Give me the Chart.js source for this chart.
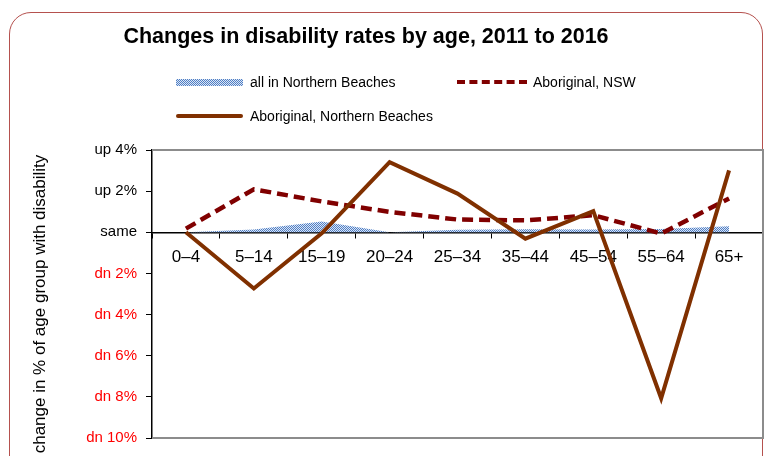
<!DOCTYPE html>
<html>
<head>
<meta charset="utf-8">
<script src="https://cdn.jsdelivr.net/npm/chart.js@4.4.1/dist/chart.umd.min.js"></script>
<style>
  body { margin: 0; background: #fff; font-family: "Liberation Sans", Arial, sans-serif; }
  #wrap { position: relative; width: 764px; height: 456px; overflow: hidden; }
  #frame { position: absolute; left: 9px; top: 12px; width: 752px; height: 480px;
           border: 1.5px solid #b5514e; border-radius: 22px; }
  #title { position: absolute; left: 0; top: 24px; width: 732px; text-align: center;
           font-weight: bold; font-size: 21.5px; color: #000; }
  #ytitle { position: absolute; left: 40px; top: 304px; width: 400px; margin-left: -200px;
            text-align: center; font-size: 17px; line-height: 20px; margin-top: -10px;
            transform: rotate(-90deg); color: #000; white-space: nowrap; }
  .leg { position: absolute; font-size: 14px; color: #000; line-height: 16px; }
  .sw { position: absolute; }
  canvas { position: absolute; left: 0; top: 0; }
</style>
</head>
<body>
<div id="wrap">
  <div id="frame"></div>
  <canvas id="grafico" width="764" height="456"></canvas>
  <div id="title">Changes in disability rates by age, 2011 to 2016</div>
  <div id="ytitle">change in % of age group with disability</div>

  <div class="sw" style="left:176px; top:79px; width:67px; height:7px;
       background: repeating-conic-gradient(#4f7fc6 0 25%, #dde6f4 0 50%) 0 0/2px 2px;"></div>
  <div class="leg" style="left:250px; top:74px;">all in Northern Beaches</div>

  <div class="sw" style="left:457px; top:80px; width:70px; height:0;
       border-top: 4px dashed #800000;"></div>
  <div class="leg" style="left:533px; top:74px;">Aboriginal, NSW</div>

  <div class="sw" style="left:176px; top:114px; width:67px; height:4px; background:#803000; border-radius:2px;"></div>
  <div class="leg" style="left:250px; top:108px;">Aboriginal, Northern Beaches</div>
</div>

<script>
// categorias e séries (variação em pontos percentuais)
const ageGroups = ["0–4", "5–14", "15–19", "20–24", "25–34", "35–44", "45–54", "55–64", "65+"];
const allNorthernBeaches = [0, 0.13, 0.53, 0, 0.12, 0.15, 0.13, 0.16, 0.29];
const aboriginalNSW = [0.18, 2.09, 1.5, 0.99, 0.62, 0.58, 0.83, -0.06, 1.64];
const aboriginalNorthernBeaches = [0, -2.73, -0.05, 3.41, 1.88, -0.31, 1.03, -8.07, 3.01];

// rótulos do eixo y
const yTickValues = [-10, -8, -6, -4, -2, 0, 2, 4];
const yTickLabels = ["dn 10%", "dn 8%", "dn 6%", "dn 4%", "dn 2%", "same", "up 2%", "up 4%"];

// padrão pontilhado azul para a área
function criarPadrao() {
  const c = document.createElement("canvas");
  c.width = 2; c.height = 2;
  const g = c.getContext("2d");
  g.fillStyle = "#dde6f4";
  g.fillRect(0, 0, 2, 2);
  g.fillStyle = "#4f7fc6";
  g.fillRect(0, 0, 1, 1);
  g.fillRect(1, 1, 1, 1);
  return g.createPattern(c, "repeat");
}

// moldura cinza da área do gráfico
const molduraPlot = {
  id: "molduraPlot",
  beforeDatasetsDraw(chart) {
    const { ctx, chartArea: a } = chart;
    ctx.save();
    ctx.strokeStyle = "#8c8c8c";
    ctx.lineWidth = 2;
    ctx.beginPath();
    ctx.moveTo(a.left, a.top);
    ctx.lineTo(a.right, a.top);
    ctx.lineTo(a.right, a.bottom);
    ctx.lineTo(a.left, a.bottom);
    ctx.stroke();
    ctx.restore();
  }
};

const ctx = document.getElementById("grafico").getContext("2d");
new Chart(ctx, {
  type: "line",
  data: {
    labels: ageGroups,
    datasets: [
      {
        label: "Aboriginal, Northern Beaches",
        data: aboriginalNorthernBeaches,
        borderColor: "#803000",
        borderWidth: 4,
        borderJoinStyle: "miter",
        pointRadius: 0,
        fill: false,
        order: 0
      },
      {
        label: "Aboriginal, NSW",
        data: aboriginalNSW,
        borderColor: "#800000",
        borderWidth: 4.5,
        borderDash: [11, 6],
        pointRadius: 0,
        fill: false,
        order: 1
      },
      {
        label: "all in Northern Beaches",
        data: allNorthernBeaches,
        borderWidth: 0,
        borderColor: "rgba(0,0,0,0)",
        backgroundColor: criarPadrao(),
        pointRadius: 0,
        fill: "origin",
        order: 2
      }
    ]
  },
  options: {
    responsive: false,
    animation: false,
    layout: { padding: { top: 150, bottom: 17, right: 1, left: 0 } },
    plugins: {
      legend: { display: false },
      title: { display: false },
      tooltip: { enabled: false }
    },
    scales: {
      x: {
        position: { y: 0 },
        offset: true,
        grid: { display: true, drawOnChartArea: false, offset: true, tickLength: 5, color: "#000" },
        border: { color: "#000", width: 1.5 },
        ticks: { color: "#000", font: { family: "Liberation Sans", size: 17 }, padding: 10, maxRotation: 0 }
      },
      y: {
        min: -10,
        max: 4,
        afterFit: (s) => { s.width = 152; },
        afterBuildTicks: (s) => { s.ticks = yTickValues.map(v => ({ value: v })); },
        grid: { drawOnChartArea: false, tickLength: 6, color: "#000" },
        border: { color: "#000", width: 1.5 },
        ticks: {
          font: { family: "Liberation Sans", size: 15 },
          padding: 9,
          color: (c) => c.tick && c.tick.value < 0 ? "#ff0000" : "#000",
          callback: (v) => yTickLabels[yTickValues.indexOf(v)]
        }
      }
    }
  },
  plugins: [molduraPlot]
});
</script>
</body>
</html>
